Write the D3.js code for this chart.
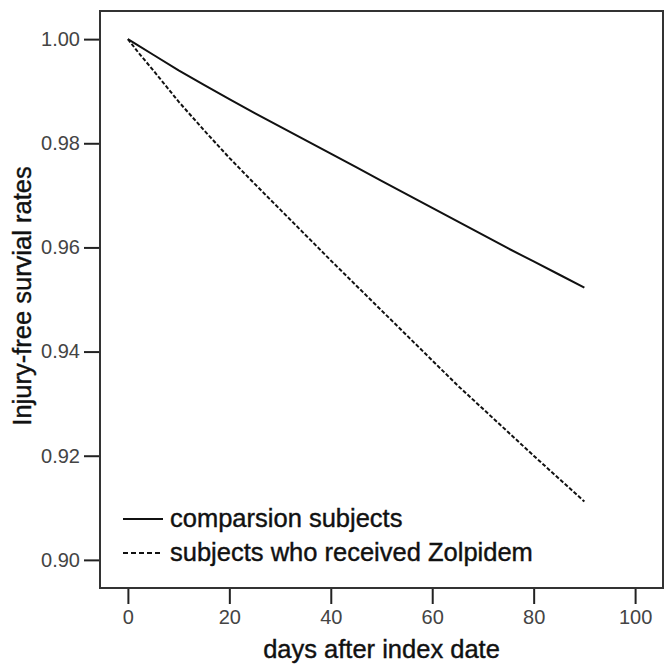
<!DOCTYPE html>
<html>
<head>
<meta charset="utf-8">
<script src="https://cdn.jsdelivr.net/npm/d3@7"></script>
<style>
  body { margin: 0; background: #fff; }
  text { font-family: "Liberation Sans", Arial, sans-serif; }
</style>
</head>
<body>
<div id="chart"></div>
<script>
// data
var days = [0, 2, 5, 10, 15, 20, 25, 30, 35, 40, 45, 50, 55, 60, 65, 70, 75, 80, 85, 90];
var comparison = [1.0000, 0.9988, 0.9970, 0.9940, 0.9912, 0.9885, 0.9858, 0.9832, 0.9806, 0.9780,
                  0.9754, 0.9728, 0.9702, 0.9676, 0.9650, 0.9624, 0.9598, 0.9573, 0.9548, 0.9523];
var zolpidem = [1.0000, 0.9975, 0.9940, 0.9880, 0.9825, 0.9772, 0.9722, 0.9673, 0.9624, 0.9575,
                0.9527, 0.9479, 0.9431, 0.9383, 0.9335, 0.9290, 0.9245, 0.9200, 0.9156, 0.9112];
var xTicks = [0, 20, 40, 60, 80, 100];
var yTicks = [0.90, 0.92, 0.94, 0.96, 0.98, 1.00];
var legendLabels = ["comparsion subjects", "subjects who received Zolpidem"];

var width = 672, height = 672;
var plot = {left: 100, right: 663, top: 11, bottom: 588};
var titleSize = "25.5px";

var svg = d3.select("#chart")
  .append("svg")
    .attr("width", width)
    .attr("height", height);

var x = d3.scaleLinear()
  .domain([-5.5, 105.5])
  .range([plot.left, plot.right]);

var y = d3.scaleLinear()
  .domain([0.8946, 1.0054])
  .range([plot.bottom, plot.top]);

// Y axis ticks
var yAxis = svg.append("g")
  .attr("transform", "translate(" + plot.left + ",0)")
  .call(d3.axisLeft(y).tickValues(yTicks).tickSize(16).tickPadding(4).tickFormat(d3.format(".2f")));
yAxis.select(".domain").remove();
yAxis.selectAll("line").attr("stroke", "#222").attr("stroke-width", 2);
yAxis.selectAll("text")
  .attr("fill", "#444")
  .style("font-size", "20px");

// X axis ticks
var xAxis = svg.append("g")
  .attr("transform", "translate(0," + (plot.bottom + 1) + ")")
  .call(d3.axisBottom(x).tickValues(xTicks).tickSize(15).tickPadding(6));
xAxis.select(".domain").remove();
xAxis.selectAll("line").attr("stroke", "#222").attr("stroke-width", 2);
xAxis.selectAll("text")
  .attr("fill", "#444")
  .style("font-size", "20px");

// frame
svg.append("rect")
  .attr("x", plot.left)
  .attr("y", plot.top)
  .attr("width", plot.right - plot.left)
  .attr("height", plot.bottom - plot.top)
  .attr("fill", "none")
  .attr("stroke", "#333")
  .attr("stroke-width", 2);

var line = d3.line()
  .x(function(d) { return x(d[0]); })
  .y(function(d) { return y(d[1]); });

svg.append("path")
  .datum(d3.zip(days, comparison))
  .attr("fill", "none")
  .attr("stroke", "#111")
  .attr("stroke-width", 2)
  .attr("d", line);

svg.append("path")
  .datum(d3.zip(days, zolpidem))
  .attr("fill", "none")
  .attr("stroke", "#111")
  .attr("stroke-width", 2)
  .attr("stroke-dasharray", "4,2")
  .attr("d", line);

// legend
var legend = svg.append("g");
legendLabels.forEach(function(label, i) {
  var ly = 519 + i * 34;
  legend.append("line")
    .attr("x1", 123).attr("x2", 163)
    .attr("y1", ly).attr("y2", ly)
    .attr("stroke", "#111")
    .attr("stroke-width", 2)
    .attr("stroke-dasharray", i === 0 ? null : "5,3");
  legend.append("text")
    .attr("x", 170)
    .attr("y", ly + 8)
    .attr("fill", "#111")
    .attr("stroke", "#111")
    .attr("stroke-width", 0.4)
    .style("font-size", titleSize)
    .text(label);
});

// axis titles
svg.append("text")
  .attr("x", (plot.left + plot.right) / 2)
  .attr("y", 658)
  .attr("text-anchor", "middle")
  .attr("fill", "#111")
  .attr("stroke", "#111")
  .attr("stroke-width", 0.4)
  .style("font-size", titleSize)
  .text("days after index date");

svg.append("text")
  .attr("transform", "rotate(-90)")
  .attr("x", -296)
  .attr("y", 31)
  .attr("text-anchor", "middle")
  .attr("fill", "#111")
  .attr("stroke", "#111")
  .attr("stroke-width", 0.4)
  .style("font-size", titleSize)
  .text("Injury-free survial rates");
</script>
</body>
</html>
